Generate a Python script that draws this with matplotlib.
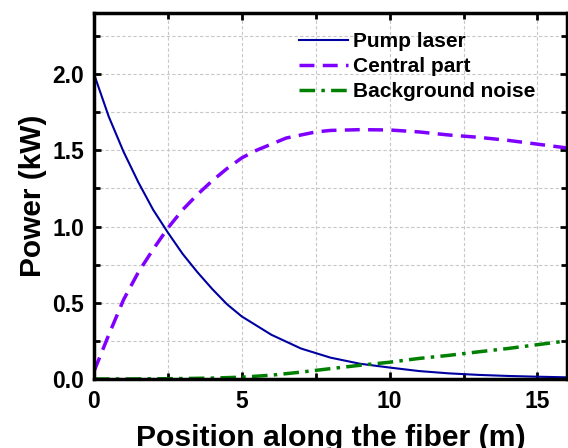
import matplotlib.pyplot as plt
from matplotlib.ticker import MultipleLocator

# Valores
pos_pump = [0, 0.5, 1, 1.5, 2, 2.5, 3, 3.5, 4, 4.5, 5, 6, 7, 8, 9, 10, 11, 12, 13, 14, 15, 16]
pump = [2.0, 1.72, 1.49, 1.29, 1.11, 0.96, 0.82, 0.70, 0.59, 0.49, 0.41, 0.29, 0.20, 0.14,
        0.10, 0.075, 0.052, 0.037, 0.027, 0.020, 0.015, 0.011]

pos_central = [0, 0.5, 1, 1.5, 2, 2.5, 3, 3.5, 4, 4.5, 5, 5.5, 6, 6.5, 7, 7.5, 8, 9, 10,
               11, 12, 13, 14, 15, 16]
central = [0.05, 0.29, 0.52, 0.70, 0.85, 0.99, 1.11, 1.21, 1.30, 1.38, 1.45, 1.50, 1.54,
           1.58, 1.60, 1.62, 1.63, 1.635, 1.633, 1.62, 1.60, 1.585, 1.565, 1.54, 1.515]

pos_noise = [0, 1, 2, 3, 4, 5, 6, 7, 8, 9, 10, 11, 12, 13, 14, 15, 16]
noise = [0.0, 0.0, 0.001, 0.003, 0.006, 0.012, 0.025, 0.045, 0.068, 0.09, 0.11, 0.135,
         0.155, 0.178, 0.20, 0.225, 0.25]

x_ticks = [0, 5, 10, 15]
y_ticks = [0, 0.5, 1.0, 1.5, 2.0]
y_ticklabels = ['0.0', '0.5', '1.0', '1.5', '2.0']

plt.rcParams['font.family'] = ['Liberation Sans', 'DejaVu Sans']
plt.rcParams['font.weight'] = 'bold'

fig = plt.figure(figsize=(5.68, 4.48), dpi=100)
ax = fig.add_axes([94 / 568, 1 - 379 / 448, (567 - 94) / 568, (379 - 13) / 448])

ax.plot(pos_pump, pump, color='#0000a0', lw=1.5, label='Pump laser')
ax.plot(pos_central, central, color='#8000ff', lw=2.5, dashes=(4.3, 2.4), label='Central part')
ax.plot(pos_noise, noise, color='#008000', lw=2.5, dashes=(4.5, 1.8, 1, 1.8),
        label='Background noise')

ax.set_xlim(0, 16)
ax.set_ylim(0, 2.4)
ax.set_xticks(x_ticks)
ax.set_yticks(y_ticks)
ax.set_yticklabels(y_ticklabels)
ax.xaxis.set_minor_locator(MultipleLocator(2.5))
ax.yaxis.set_minor_locator(MultipleLocator(0.25))

ax.grid(True, which='both', color='#c8c8c8', linestyle=(0, (3, 2)), lw=0.8)
ax.set_axisbelow(True)

ax.tick_params(which='both', direction='in', top=True, right=True, width=2)
ax.tick_params(which='major', length=5, labelsize=16.5)
ax.tick_params(axis='x', pad=8)
ax.tick_params(axis='y', pad=7)
ax.tick_params(which='minor', length=4)
for s in ax.spines.values():
    s.set_linewidth(2.5)

# la etiqueta del eje x queda recortada abajo, igual que en la figura original
ax.set_xlabel('Position along the fiber (m)', fontsize=21.7, fontweight='bold', labelpad=8)
ax.set_ylabel('Power (kW)', fontsize=21.5, fontweight='bold', labelpad=4)

ax.legend(loc='upper left', frameon=False, fontsize=15, handlelength=2.35,
          handletextpad=0.25, labelspacing=0.29, borderpad=0, borderaxespad=0,
          bbox_to_anchor=(0.433, 0.948))

plt.savefig('out.png', dpi=100)
